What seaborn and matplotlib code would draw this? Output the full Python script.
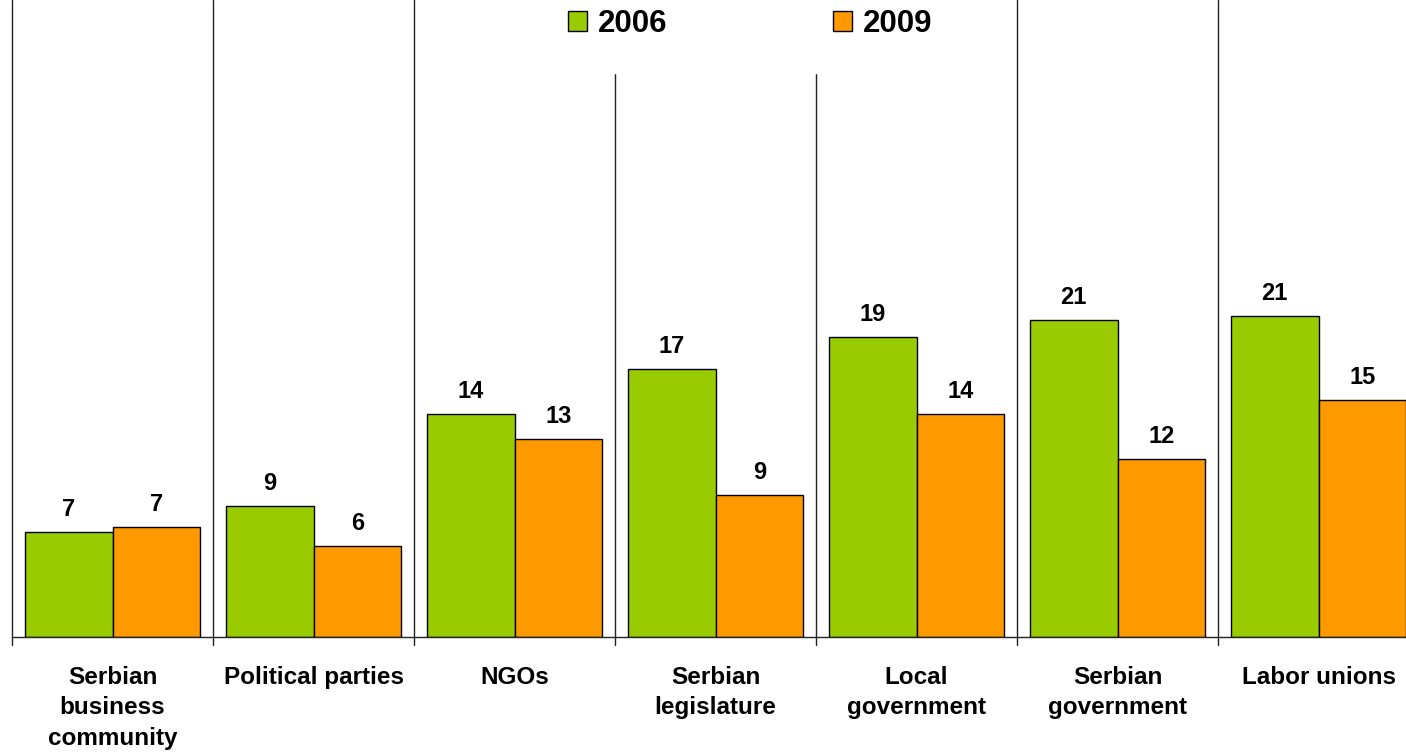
import pandas as pd
import numpy as np
import matplotlib.pyplot as plt
import seaborn as sns

# Values; the printed labels are the rounded numbers
categories = ['Serbian\nbusiness\ncommunity', 'Political parties', 'NGOs',
              'Serbian\nlegislature', 'Local\ngovernment', 'Serbian\ngovernment',
              'Labor unions']
values_2006 = [6.82, 8.51, 14.48, 17.40, 19.48, 20.58, 20.84]
values_2009 = [7.14, 5.91, 12.86, 9.22, 14.48, 11.56, 15.39]
labels_2006 = ['7', '9', '14', '17', '19', '21', '21']
labels_2009 = ['7', '6', '13', '9', '14', '12', '15']
years = ['2006', '2009']
colors = ['#99CC00', '#FF9900']

sns.set_style('white')
plt.rcParams['font.family'] = ['Liberation Sans', 'DejaVu Sans']
plt.rcParams['text.color'] = 'black'
plt.rcParams['xtick.color'] = 'black'

df = pd.DataFrame({
    'category': categories * 2,
    'value': values_2006 + values_2009,
    'year': [years[0]] * len(categories) + [years[1]] * len(categories),
})

W, H = 1406, 753
fig = plt.figure(figsize=(W / 100, H / 100), dpi=100)
ax = fig.add_axes([12 / W, 116.3 / H, (W - 12) / W, 636.7 / H])

sns.barplot(data=df, x='category', y='value', hue='year', palette=colors,
            width=0.875, edgecolor='black', linewidth=1, saturation=1,
            ax=ax, legend=False)

ax.set_xlim(-0.5, -0.5 + (W - 12) / 201)
ax.set_ylim(0, 636.7 / 15.4)

# value labels above bars
for cont, labs in zip(ax.containers, [labels_2006, labels_2009]):
    ax.bar_label(cont, labels=labs, padding=8, fontsize=17, fontweight='bold',
                 color='black')

# category separators
for i in range(len(categories)):
    ax.axvline(i - 0.5, ymin=-0.013, ymax=1, color='#222222', lw=1,
               clip_on=False, zorder=0)

for s in ['left', 'right', 'top']:
    ax.spines[s].set_visible(False)
ax.spines['bottom'].set_color('#222222')
ax.spines['bottom'].set_linewidth(1)

ax.set_yticks([])
ax.set_xlabel('')
ax.set_ylabel('')
ax.tick_params(axis='x', length=0, pad=21)
ax.set_xticks(range(len(categories)))
ax.set_xticklabels(categories, fontsize=17.5, fontweight='bold', linespacing=1.42,
                   color='black')

# legend
handles = [plt.Rectangle((0, 0), 1, 1, facecolor=c, edgecolor='black', lw=1)
           for c in colors]
leg = fig.legend(handles, years, loc='center', bbox_to_anchor=(750 / W, 1 - 24 / H),
                 ncol=2, frameon=True, fancybox=False, edgecolor='white',
                 framealpha=1, borderpad=1.1, handlelength=0.62,
                 handleheight=0.62, handletextpad=0.33, columnspacing=5.3,
                 prop={'weight': 'bold', 'size': 22.5})
leg.set_zorder(10)
for t in leg.get_texts():
    t.set_color('black')

plt.savefig('out.png', dpi=100)
